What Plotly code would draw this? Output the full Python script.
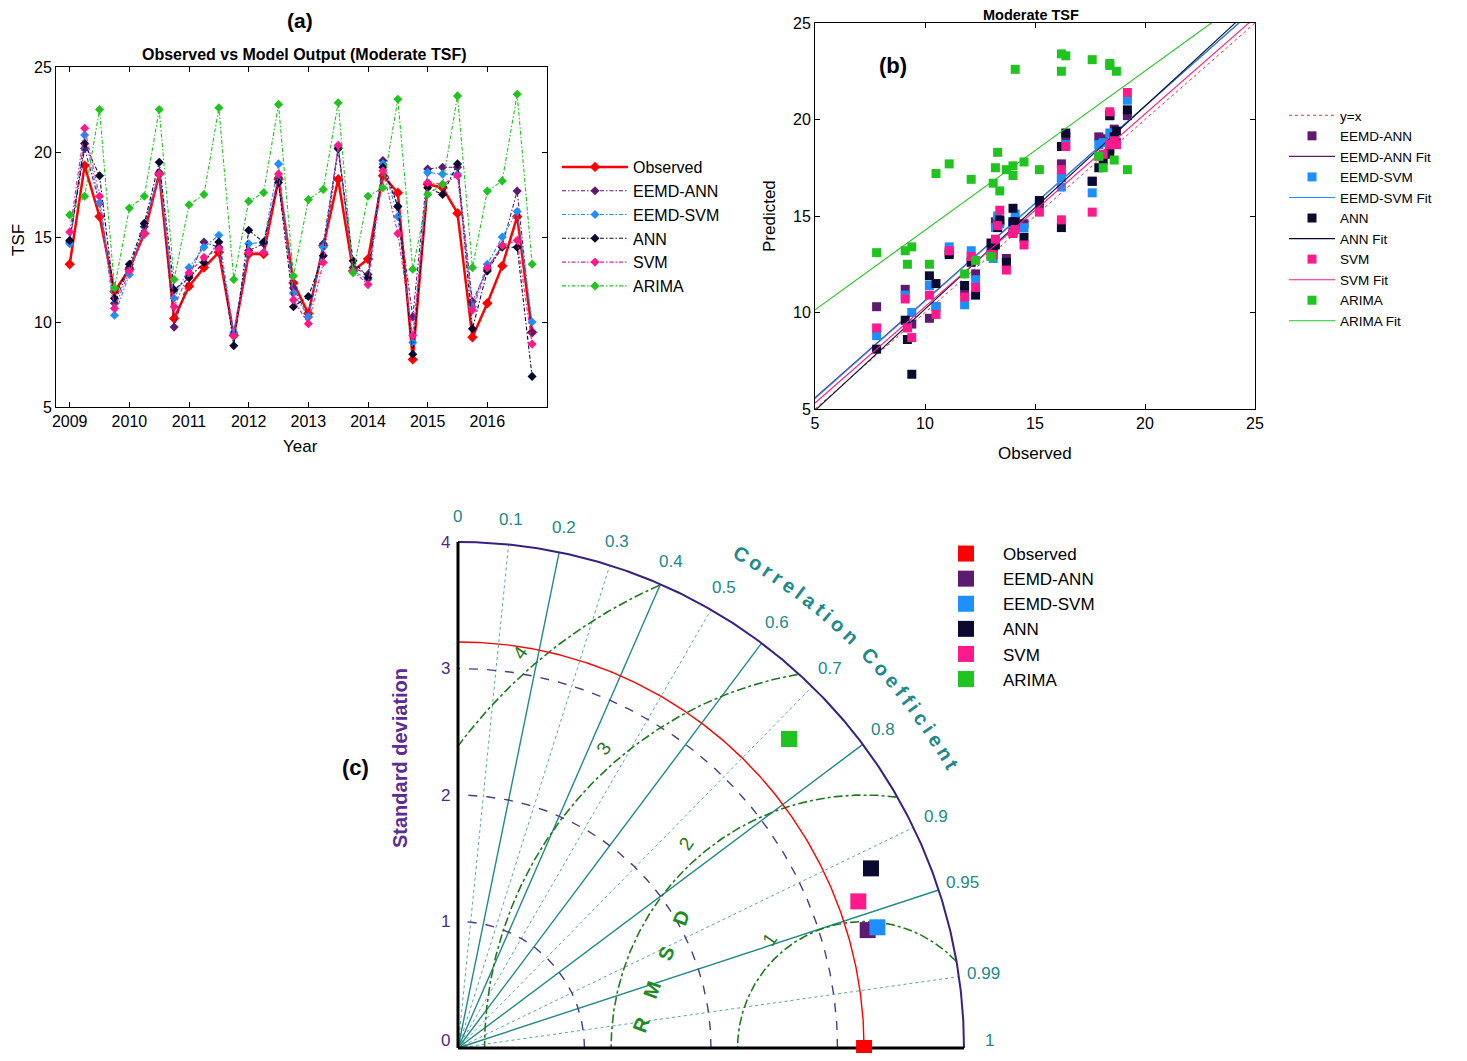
import numpy as np
import plotly.graph_objects as go

W, H = 1467, 1061
OFF = 8                      # page body margin of the html page
FW, FH = W - 2 * OFF, H - 2 * OFF
FONT = "Liberation Sans, Arial, Helvetica, sans-serif"

# ---------------- data ----------------
years = [2009.0, 2009.25, 2009.5, 2009.75, 2010.0, 2010.25, 2010.5, 2010.75,
         2011.0, 2011.25, 2011.5, 2011.75, 2012.0, 2012.25, 2012.5, 2012.75,
         2013.0, 2013.25, 2013.5, 2013.75, 2014.0, 2014.25, 2014.5, 2014.75,
         2015.0, 2015.25, 2015.5, 2015.75, 2016.0, 2016.25, 2016.5, 2016.75]
year_ticks = [2009, 2010, 2011, 2012, 2013, 2014, 2015, 2016]

observed = [13.4, 19.2, 16.2, 11.8, 13.1, 15.2, 18.7, 10.2, 12.1, 13.2, 14.1, 9.2,
            14.0, 14.0, 18.4, 12.3, 10.5, 14.5, 18.4, 13.0, 13.7, 18.6, 17.6, 7.8,
            18.1, 17.9, 16.4, 9.1, 11.1, 13.3, 16.2, 9.4]
eemd_ann = [14.7, 20.2, 17.0, 11.1, 13.2, 15.6, 18.8, 9.7, 12.7, 14.7, 14.4, 9.3,
            14.2, 14.6, 18.5, 12.0, 10.3, 14.6, 20.2, 13.2, 12.8, 19.5, 16.8, 10.3,
            19.0, 19.1, 19.1, 11.2, 13.1, 14.5, 17.7, 9.4]
eemd_svm = [14.6, 21.0, 17.0, 10.4, 12.8, 15.8, 18.7, 11.4, 13.2, 14.4, 15.1, 9.4,
            14.6, 14.7, 19.3, 11.7, 10.3, 14.4, 20.3, 13.0, 12.5, 19.3, 16.2, 8.8,
            18.8, 18.7, 18.7, 10.9, 13.4, 15.0, 16.5, 10.0]
ann = [14.8, 20.5, 18.6, 11.4, 13.4, 15.8, 19.4, 11.9, 12.6, 13.5, 14.7, 8.6,
       15.4, 14.7, 18.2, 10.9, 11.5, 13.9, 20.2, 13.6, 12.6, 19.1, 16.8, 8.1,
       17.9, 17.5, 19.3, 9.6, 13.0, 14.4, 14.4, 6.8]
svm = [15.3, 21.4, 17.4, 10.8, 13.0, 15.2, 18.7, 10.9, 12.9, 13.8, 14.3, 9.2,
       14.1, 14.1, 18.7, 11.3, 9.9, 13.5, 20.4, 13.0, 12.2, 18.9, 15.2, 9.2,
       18.2, 18.1, 18.6, 10.7, 13.2, 14.5, 14.8, 8.7]
arima = [16.3, 17.4, 22.5, 12.0, 16.7, 17.4, 22.5, 12.5, 16.9, 17.5, 22.6, 12.5,
         17.1, 17.6, 22.8, 12.7, 17.2, 17.8, 22.9, 12.9, 17.4, 17.9, 23.1, 13.1,
         17.5, 18.1, 23.3, 13.2, 17.7, 18.3, 23.4, 13.4]

scatter_ticks = [5, 10, 15, 20, 25]

taylor_names = ["Observed", "EEMD-ANN", "EEMD-SVM", "ANN", "SVM", "ARIMA"]
taylor_std = [3.21, 3.37, 3.45, 3.56, 3.37, 3.58]
taylor_corr = [1.0, 0.961, 0.961, 0.917, 0.939, 0.731]

corr_ticks = [0, 0.1, 0.2, 0.3, 0.4, 0.5, 0.6, 0.7, 0.8, 0.9, 0.95, 0.99, 1]
corr_lines = [0.1, 0.2, 0.3, 0.4, 0.5, 0.6, 0.7, 0.8, 0.9, 0.95, 0.99]
corr_solid = [0.2, 0.4, 0.6, 0.8, 0.95]
std_ticks = [0, 1, 2, 3, 4]
std_arcs = [1, 2, 3]
rmsd_levels = [1, 2, 3, 4]

# ---------------- styles ----------------
COL = {"Observed": "#ff0000", "EEMD-ANN": "#5e1a6e", "EEMD-SVM": "#1e8fff",
       "ANN": "#0a0a30", "SVM": "#ff1a8c", "ARIMA": "#1fc41f"}
TEAL = "#22898a"
PURPLE = "#4b2a8c"
GREEN = "#1f7a1f"
DASHDOT = "4px,2px,1.5px,2px"


def px(x):
    return (x - OFF) / FW


def py(y):
    return 1 - (y - OFF) / FH


fig = go.Figure()

# ---------------- panel (a) ----------------
series_a = [("Observed", observed), ("EEMD-ANN", eemd_ann), ("EEMD-SVM", eemd_svm),
            ("ANN", ann), ("SVM", svm), ("ARIMA", arima)]
for name, vals in series_a:
    obs = name == "Observed"
    fig.add_trace(go.Scatter(
        x=years, y=vals, name=name, mode="lines+markers",
        line=dict(color=COL[name], width=2.5 if obs else 1.1,
                  dash="solid" if obs else DASHDOT),
        marker=dict(symbol="diamond", size=8 if obs else 7, color=COL[name]),
        xaxis="x", yaxis="y", legend="legend"))

# ---------------- panel (b) ----------------
fig.add_trace(go.Scatter(x=[5, 25], y=[5, 25], mode="lines", name="y=x",
                         line=dict(color="#ff3030", width=1, dash="dot"),
                         xaxis="x2", yaxis="y2", legend="legend2"))
obs_arr = np.array(observed)
for name, vals in series_a[1:]:
    fig.add_trace(go.Scatter(x=observed, y=vals, mode="markers", name=name,
                             marker=dict(symbol="square", size=9, color=COL[name]),
                             xaxis="x2", yaxis="y2", legend="legend2"))
    slope, icpt = np.polyfit(obs_arr, np.array(vals), 1)
    xs = np.array([5.0, 25.0])
    fig.add_trace(go.Scatter(x=xs, y=slope * xs + icpt, mode="lines", name=name + " Fit",
                             line=dict(color=COL[name], width=1.1),
                             xaxis="x2", yaxis="y2", legend="legend2"))

# ---------------- panel (c) Taylor diagram ----------------
RMAX = 4.0
th = np.linspace(0, np.pi / 2, 300)


def tline(x, y, color, width, dash="solid"):
    fig.add_trace(go.Scatter(x=x, y=y, mode="lines", showlegend=False, hoverinfo="skip",
                             line=dict(color=color, width=width, dash=dash),
                             xaxis="x3", yaxis="y3"))


for c in corr_lines:
    s = np.sqrt(1 - c * c)
    solid = c in corr_solid
    tline([0, RMAX * c], [0, RMAX * s], TEAL if solid else "#5aa6a6",
          1.4 if solid else 1.0, "solid" if solid else "dot")
for r in std_arcs:
    tline(r * np.cos(th), r * np.sin(th), "#4a3c88", 1.4, "dash")
ref_std = taylor_std[0]
phi = np.linspace(0, np.pi, 600)
for k in rmsd_levels:
    xr = ref_std + k * np.cos(phi)
    yr = k * np.sin(phi)
    mask = (xr ** 2 + yr ** 2 <= RMAX ** 2) & (xr >= 0)
    xr = np.where(mask, xr, np.nan)
    yr = np.where(mask, yr, np.nan)
    tline(xr, yr, GREEN, 1.6, "dashdot")
tline(ref_std * np.cos(th), ref_std * np.sin(th), "#ff0000", 1.4)
tline(RMAX * np.cos(th), RMAX * np.sin(th), "#3a2180", 2)
tline([0, 0], [0, RMAX], "black", 3)
tline([0, RMAX], [0, 0], "black", 3)

for name, sd, cc in zip(taylor_names, taylor_std, taylor_corr):
    fig.add_trace(go.Scatter(x=[sd * cc], y=[sd * np.sqrt(1 - cc * cc)], mode="markers",
                             name=name, cliponaxis=False,
                             marker=dict(symbol="square", size=16, color=COL[name]),
                             xaxis="x3", yaxis="y3", legend="legend3"))

# ---------------- annotations ----------------
ann_list = []


def add_text(x, y, text, size, color="black", bold=False, angle=0, ref="paper",
             xanchor="center", yanchor="middle", pad=1):
    if bold:
        text = "<b>" + text + "</b>"
    xr = "paper" if ref == "paper" else "x3"
    yr = "paper" if ref == "paper" else "y3"
    ann_list.append(dict(x=x, y=y, xref=xr, yref=yr, text=text, showarrow=False,
                         textangle=angle, xanchor=xanchor, yanchor=yanchor, borderpad=pad,
                         font=dict(family=FONT, size=size, color=color)))


add_text(px(300), py(20), "(a)", 21, bold=True)
add_text(px(304), py(55), "Observed vs Model Output (Moderate TSF)", 16, bold=True)
add_text(px(18), py(240), "TSF", 17, angle=-90)
add_text(px(300), py(446), "Year", 17)

add_text(px(1031), py(15), "Moderate TSF", 14.5, bold=True, pad=0)
add_text(px(893), py(65), "(b)", 22, bold=True)
add_text(px(1035), py(453), "Observed", 17)
add_text(px(770), py(216), "Predicted", 17, angle=-90)

add_text(px(400), py(758), "Standard deviation", 20, color="#5a2d91", bold=True, angle=-90)
add_text(px(355), py(767), "(c)", 22, bold=True)

for c in corr_ticks:
    s = np.sqrt(max(0.0, 1 - c * c))
    if c == 1:
        add_text(4.2, -0.03, "1", 17, color=TEAL, ref="x3", yanchor="bottom")
    else:
        add_text(4.2 * c, 4.2 * s, "%g" % c, 17, color=TEAL, ref="x3")
for v in std_ticks:
    if v == 0:
        add_text(-0.05, -0.03, "0", 17, color=PURPLE, ref="x3", xanchor="right",
                 yanchor="bottom")
    else:
        add_text(-0.05, v, str(v), 17, color=PURPLE, ref="x3", xanchor="right")
for k in rmsd_levels:
    ang = np.deg2rad(131)
    rr = k + 0.14
    add_text(ref_std + rr * np.cos(ang), rr * np.sin(ang), str(k), 19, color=GREEN,
             ref="x3", angle=-55)
for letter, (lx, ly) in zip("RMSD", [(641, 1025), (652, 990), (666, 954), (681, 918)]):
    add_text(px(lx), py(ly), letter, 20, color="#1e8c1e", bold=True, angle=-70)

title = "Correlation Coefficient"
wid = {"C": 14.4, "o": 12.2, "r": 7.8, "e": 11.1, "l": 5.6, "a": 11.1, "t": 6.7,
       "i": 5.6, "n": 12.2, " ": 5.6, "f": 6.7, "c": 11.1}
gap = 4.4
Rpx = 569.0
pos = []
s = 0.0
for ch in title:
    w = wid[ch]
    pos.append(s + w / 2)
    s += w + gap
theta0 = 60.2
for ch, p in zip(title, pos):
    if ch == " ":
        continue
    thd = theta0 - np.rad2deg((p - pos[0]) / Rpx)
    t = np.deg2rad(thd)
    rr = Rpx / 126.5
    add_text(rr * np.cos(t), rr * np.sin(t), ch, 20, color=TEAL, bold=True,
             ref="x3", angle=90 - thd)

# ---------------- layout ----------------
axis_common = dict(showline=True, linecolor="black", linewidth=1, mirror="ticks",
                   ticks="inside", ticklen=5, tickcolor="black", showgrid=False,
                   zeroline=False, tickfont=dict(family=FONT, size=16, color="black"))

S = 126.5
ox, oy = 458.0, 1048.0
xlo, xhi = -0.35, 4.65
ylo, yhi = -0.03, 4.65

fig.update_layout(
    width=FW, height=FH, margin=dict(l=0, r=0, t=0, b=0, pad=0, autoexpand=False),
    paper_bgcolor="white", plot_bgcolor="white",
    font=dict(family=FONT, color="black"),
    xaxis=dict(domain=[px(56), px(547)], range=[2008.77, 2017.0], tickvals=year_ticks,
               anchor="y", **axis_common),
    yaxis=dict(domain=[py(407), py(67)], range=[5, 25], tickvals=scatter_ticks,
               anchor="x", **axis_common),
    xaxis2=dict(domain=[px(815), px(1255)], range=[5, 25], tickvals=scatter_ticks,
                anchor="y2", **axis_common),
    yaxis2=dict(domain=[py(409), py(23)], range=[5, 25], tickvals=scatter_ticks,
                anchor="x2", **axis_common),
    xaxis3=dict(domain=[px(ox + xlo * S), px(ox + xhi * S)], range=[xlo, xhi], visible=False,
                anchor="y3", fixedrange=True),
    yaxis3=dict(domain=[py(oy - ylo * S), py(oy - yhi * S)], range=[ylo, yhi], visible=False,
                anchor="x3", fixedrange=True),
    legend=dict(x=px(557), y=py(150), xanchor="left", yanchor="top", itemwidth=66,
                font=dict(family=FONT, size=16, color="black"), bgcolor="rgba(0,0,0,0)"),
    legend2=dict(x=px(1284), y=py(100), xanchor="left", yanchor="top", itemwidth=46,
                 font=dict(family=FONT, size=13.5, color="black"), bgcolor="rgba(0,0,0,0)"),
    legend3=dict(x=px(929), y=py(536), xanchor="left", yanchor="top", itemwidth=64,
                 font=dict(family=FONT, size=17, color="black"), bgcolor="rgba(0,0,0,0)"),
    annotations=ann_list,
    showlegend=True,
)

fig.write_html("out.html")
